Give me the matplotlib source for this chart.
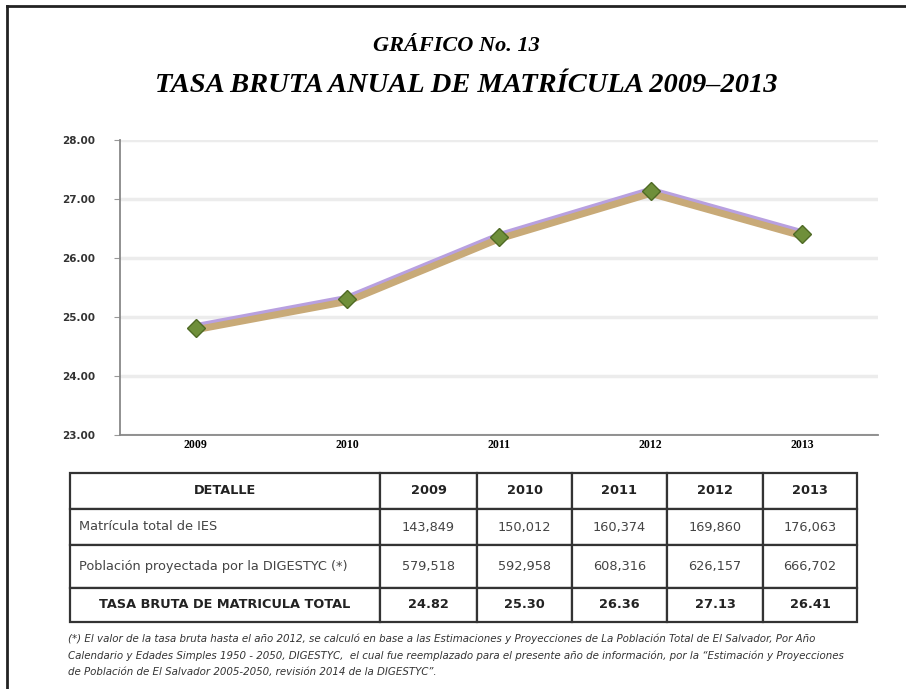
import matplotlib
matplotlib.use("Agg")
import matplotlib.pyplot as plt
from matplotlib.lines import Line2D
import matplotlib.patheffects as pe

# ---- data ----
years = ["2009", "2010", "2011", "2012", "2013"]
tasa = [24.82, 25.30, 26.36, 27.13, 26.41]
y_ticks = [23.0, 24.0, 25.0, 26.0, 27.0, 28.0]
matricula = ["143,849", "150,012", "160,374", "169,860", "176,063"]
poblacion = ["579,518", "592,958", "608,316", "626,157", "666,702"]
tasa_labels = ["24.82", "25.30", "26.36", "27.13", "26.41"]
row_labels = ["Matrícula total de IES", "Población proyectada por la DIGESTYC (*)",
              "TASA BRUTA DE MATRICULA TOTAL"]
header_label = "DETALLE"
title1 = "GRÁFICO No. 13"
title2 = "TASA BRUTA ANUAL DE MATRÍCULA 2009–2013"
footnote = ("(*) El valor de la tasa bruta hasta el año 2012, se calculó en base a las Estimaciones y Proyecciones de La Población Total de El Salvador, Por Año\n"
            "Calendario y Edades Simples 1950 - 2050, DIGESTYC,  el cual fue reemplazado para el presente año de información, por la \u201cEstimación y Proyecciones\n"
            "de Población de El Salvador 2005-2050, revisión 2014 de la DIGESTYC\u201d.")

W, H = 906, 689
fig = plt.figure(figsize=(W / 100, H / 100), dpi=100)
fig.patch.set_facecolor("white")


def fx(x):
    return x / W


def fy(y):
    return 1 - y / H


# outer frame (top and left)
fig.add_artist(Line2D([fx(7), fx(906)], [fy(6), fy(6)], color="#222222", lw=2))
fig.add_artist(Line2D([fx(7), fx(7)], [fy(6), fy(689)], color="#222222", lw=2))

# titles
fig.text(fx(456), fy(46), title1, ha="center", va="center", family="Liberation Serif",
         fontweight="bold", fontstyle="italic", fontsize=16)
fig.text(fx(466), fy(86), title2, ha="center", va="center", family="Liberation Serif",
         fontweight="bold", fontstyle="italic", fontsize=20.5)

# ---- chart ----
ax = fig.add_axes([fx(120), fy(435), fx(878 - 120), (435 - 140) / H])
x = list(range(len(years)))
ax.plot(x, tasa, color="#b8a0e0", lw=6.5, solid_capstyle="round", zorder=3)
ax.plot(x, tasa, color="#c8aa78", lw=5, solid_capstyle="round", zorder=4,
        path_effects=[pe.Stroke(offset=(0, -1.5), linewidth=5, foreground="#c8aa78")])
ax.plot(x, tasa, linestyle="none", marker="D", markersize=9, markerfacecolor="#6f8f3a",
        markeredgecolor="#4f6a25", zorder=5)
ax.set_xlim(-0.5, 4.5)
ax.set_ylim(23, 28)
ax.set_yticks(y_ticks)
ax.set_yticklabels([f"{v:.2f}" for v in y_ticks], fontsize=7.5, fontweight="bold", color="#333333")
ax.set_xticks(x)
ax.set_xticklabels(years, family="Liberation Serif", fontweight="bold", fontsize=8.5)
ax.tick_params(axis="x", length=0, pad=3)
ax.tick_params(axis="y", length=4, color="#999999", pad=14)
for s in ["top", "right"]:
    ax.spines[s].set_visible(False)
ax.spines["left"].set_color("#888888")
ax.spines["bottom"].set_color("#888888")
ax.spines["left"].set_linewidth(1.3)
ax.spines["bottom"].set_linewidth(1.3)
ax.yaxis.grid(True, color="#ececec", lw=2.5)
ax.set_axisbelow(True)

# ---- table ----
tx0, tx1, ty0, ty1 = 70, 857, 473, 622
tax = fig.add_axes([fx(tx0), fy(ty1), fx(tx1 - tx0), (ty1 - ty0) / H])
tax.axis("off")
cell_text = [[header_label] + years,
             [row_labels[0]] + matricula,
             [row_labels[1]] + poblacion,
             [row_labels[2]] + tasa_labels]
col_px = [310, 97, 95, 95, 96, 94]
tot = sum(col_px)
col_w = [c / tot for c in col_px]
row_px = [36, 36, 43, 34]
rtot = sum(row_px)
tbl = tax.table(cellText=cell_text, colWidths=col_w, cellLoc="center",
                bbox=[0, 0, 1, 1])
tbl.auto_set_font_size(False)
for (r, c), cell in tbl.get_celld().items():
    cell.set_height(row_px[r] / rtot)
    cell.set_linewidth(1.6)
    cell.set_edgecolor("#333333")
    t = cell.get_text()
    t.set_fontsize(9.3)
    t.set_color("#444444")
    if r == 0 or r == 3:
        t.set_fontweight("bold")
        t.set_color("#222222")
    if c == 0 and r in (1, 2):
        cell.set_text_props(ha="left")
        cell.PAD = 0.03

# footnote
fig.text(fx(68), fy(633), footnote, ha="left", va="top", fontsize=7.4,
         fontstyle="italic", color="#333333", linespacing=1.8,
         family=["Liberation Sans Narrow", "DejaVu Sans"])

fig.savefig("out.png", dpi=100)
